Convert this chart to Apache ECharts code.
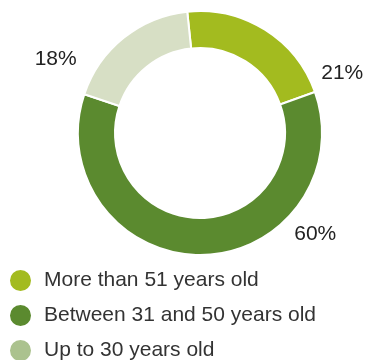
<!DOCTYPE html>
<html>
<head>
<meta charset="utf-8">
<script src="https://cdn.jsdelivr.net/npm/echarts@6/dist/echarts.min.js"></script>
<style>
  html, body { margin: 0; padding: 0; background: #fff; }
  #chart { width: 365px; height: 360px; }
</style>
</head>
<body>
<div id="chart"></div>
<script>
const categories = ['More than 51 years old', 'Between 31 and 50 years old', 'Up to 30 years old'];
const shares = [21, 60, 18];
const sliceColors = ['#a3bb1f', '#5b8a2f', '#d7dfc5'];
const legendColors = ['#a3bb1f', '#5b8a2f', '#abc28e'];

// nudges so the percentage labels sit where the original has them
const labelShift = [[47, 50], [88, -29], [-37, 28]];

const myChart = echarts.init(document.getElementById('chart'));

const option = {
  animation: false,
  legend: {
    orient: 'vertical',
    left: 8,
    top: 268,
    padding: 0,
    height: 100,
    icon: 'circle',
    itemWidth: 23,
    itemHeight: 23,
    itemGap: 10,
    textStyle: {
      fontFamily: 'Liberation Sans, Arial, sans-serif',
      fontSize: 21,
      lineHeight: 23,
      color: '#333',
      padding: [0, 0, 0, 7],
    },
    data: categories.map((name, i) => ({
      name: name,
      itemStyle: { color: legendColors[i] },
    })),
  },
  series: [
    {
      type: 'pie',
      center: [200, 133],
      radius: [85, 122],
      startAngle: 96,
      legendHoverLink: false,
      itemStyle: {
        borderColor: '#fff',
        borderWidth: 2,
      },
      label: {
        show: true,
        position: 'outside',
        formatter: '{c}%',
        fontFamily: 'Liberation Sans, Arial, sans-serif',
        fontSize: 21,
        color: '#222',
      },
      labelLine: { show: false, length: 8, length2: 0 },
      labelLayout: params => ({
        dx: labelShift[params.dataIndex][0],
        dy: labelShift[params.dataIndex][1],
      }),
      data: categories.map((name, i) => ({
        name: name,
        value: shares[i],
        itemStyle: { color: sliceColors[i] },
      })),
    },
  ],
};

myChart.setOption(option);
</script>
</body>
</html>
